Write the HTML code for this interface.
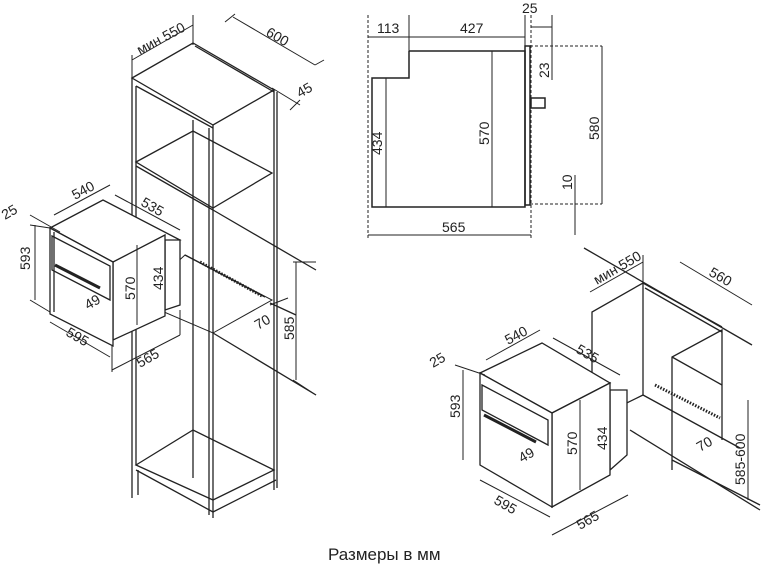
<!DOCTYPE html>
<html><head><meta charset="utf-8"><style>
body{margin:0;background:#fff;}
svg{display:block}
text{font-family:"Liberation Sans",sans-serif;font-size:14px;fill:#222;stroke:none}
.w{fill:#fff}
</style></head><body>
<svg width="768" height="568" viewBox="0 0 768 568" stroke="#222" fill="none" stroke-width="1">
<!-- LEFT TALL CABINET -->
<g stroke-width="1.3">
<polygon points="132,78 193,43 274,90 213,125"/>
<line x1="195" y1="46" x2="274" y2="92"/>
<line x1="132" y1="78" x2="132" y2="498"/>
<line x1="136" y1="86" x2="136" y2="465"/>
<line x1="136" y1="86" x2="213" y2="128"/>
<line x1="213" y1="125" x2="213" y2="518"/>
<line x1="209" y1="128" x2="209" y2="515"/>
<line x1="274" y1="90" x2="274" y2="490"/>
<line x1="277" y1="92" x2="277" y2="488"/>
<line x1="193" y1="120" x2="193" y2="478"/>
<polygon points="136,162 193,131 272,173 213,208"/>
<line x1="136" y1="166" x2="213" y2="210"/>
<polyline points="185,255 265,297"/>
<polygon points="136,300 185,255 272,300 213,333" stroke-width="1"/>
<line x1="213" y1="333" x2="316" y2="395"/>
<line x1="213" y1="210" x2="316" y2="270"/>
<line x1="270" y1="303" x2="296" y2="315"/>
<polygon points="136,465 193,430 274,470 213,500"/>
<line x1="136" y1="470" x2="213" y2="512"/>
<line x1="138" y1="470" x2="138" y2="495"/>
<line x1="213" y1="512" x2="276" y2="480"/>
<line x1="200" y1="262" x2="262" y2="296" stroke-width="3" stroke-dasharray="1.5,1.5"/>
</g>
<line x1="132" y1="60" x2="193" y2="25"/><line x1="132" y1="55" x2="132" y2="78"/><line x1="193" y1="15" x2="193" y2="45"/>
<text transform="translate(140,55) rotate(-28)">мин 550</text>
<line x1="233" y1="17" x2="315" y2="65"/><line x1="235" y1="14" x2="225" y2="22"/>
<line x1="315" y1="65" x2="324" y2="60"/>
<text transform="translate(265,35) rotate(30)">600</text>
<line x1="272" y1="88" x2="300" y2="105"/><line x1="290" y1="110" x2="300" y2="100"/>
<text transform="translate(300,98) rotate(-30)">45</text>
<line x1="296" y1="262" x2="296" y2="380"/><line x1="293" y1="262" x2="316" y2="262"/><line x1="293" y1="380" x2="316" y2="395"/>
<text transform="translate(294,340) rotate(-90)">585</text>
<line x1="270" y1="305" x2="288" y2="298"/>
<text transform="translate(258,330) rotate(-30)">70</text>
<!-- LEFT OVEN -->
<g stroke-width="1.3">
<polygon class="w" points="50,228 103,200 180,240 113,262"/>
<polygon class="w" points="165,240 180,240 180,305 165,310"/>
<polygon class="w" points="113,262 165,235 165,316 113,340"/>
<polygon class="w" points="50,228 113,262 113,346 50,314"/>
<line x1="54" y1="232" x2="54" y2="312"/>
<polygon points="52,236 110,266 110,300 52,270"/>
<line x1="55" y1="265" x2="100" y2="288" stroke-width="3"/>
</g>
<line x1="30" y1="215" x2="60" y2="232"/>
<text transform="translate(5,220) rotate(-30)">25</text>
<line x1="35" y1="225" x2="35" y2="300"/><line x1="30" y1="225" x2="50" y2="228"/><line x1="30" y1="300" x2="50" y2="312"/>
<text transform="translate(30,270) rotate(-90)">593</text>
<line x1="54" y1="215" x2="110" y2="185"/>
<text transform="translate(75,200) rotate(-28)">540</text>
<line x1="115" y1="195" x2="180" y2="230"/>
<text transform="translate(140,205) rotate(30)">535</text>
<line x1="137" y1="245" x2="137" y2="325"/>
<text transform="translate(135,300) rotate(-90)">570</text>
<line x1="165" y1="245" x2="165" y2="310"/>
<text transform="translate(163,290) rotate(-90)">434</text>
<text transform="translate(88,310) rotate(-30)">49</text>
<line x1="50" y1="322" x2="110" y2="357"/>
<text transform="translate(65,335) rotate(30)">595</text>
<line x1="112" y1="370" x2="180" y2="335"/><line x1="112" y1="346" x2="112" y2="372"/><line x1="180" y1="310" x2="180" y2="335"/>
<text transform="translate(140,368) rotate(-30)">565</text>
<!-- SIDE VIEW -->
<g stroke-width="1.5">
<polyline points="409,51 525,51 525,207 372,207 372,78 409,78 409,51"/>
<rect x="525" y="46" width="5" height="159"/>
<rect x="531" y="98" width="14" height="10"/>
</g>
<g stroke-dasharray="3,2">
<line x1="368" y1="15" x2="368" y2="240"/><line x1="531" y1="15" x2="531" y2="240"/>
<line x1="530" y1="46" x2="602" y2="46"/><line x1="530" y1="204" x2="602" y2="204"/>
</g>
<line x1="409" y1="15" x2="409" y2="51"/><line x1="525" y1="15" x2="525" y2="51"/>
<line x1="368" y1="37" x2="525" y2="37"/><line x1="531" y1="27" x2="552" y2="27"/>
<line x1="386" y1="78" x2="386" y2="207"/><line x1="492" y1="51" x2="492" y2="207"/>
<line x1="602" y1="46" x2="602" y2="204"/><line x1="552" y1="15" x2="552" y2="80"/>
<line x1="575" y1="175" x2="575" y2="235"/><line x1="368" y1="235" x2="531" y2="235"/>
<text x="377" y="33">113</text><text x="460" y="33">427</text><text x="522" y="13">25</text>
<text transform="translate(382,155) rotate(-90)">434</text>
<text transform="translate(489,145) rotate(-90)">570</text>
<text transform="translate(599,140) rotate(-90)">580</text>
<text transform="translate(549,78) rotate(-90)">23</text>
<text transform="translate(572,190) rotate(-90)">10</text>
<text x="442" y="232">565</text>
<!-- RIGHT ISO -->
<g stroke-width="1.3">
<polyline points="592,380 592,312 643,283 722,327"/>
<line x1="643" y1="283" x2="643" y2="395"/>
<line x1="643" y1="395" x2="592" y2="420"/>
<line x1="643" y1="395" x2="740" y2="448"/>
<polyline points="672,470 672,357 722,330 722,440"/>
<line x1="672" y1="357" x2="722" y2="385"/>
<line x1="630" y1="430" x2="760" y2="510"/>
<line x1="672" y1="460" x2="760" y2="505"/>
<line x1="584" y1="248" x2="752" y2="345"/>
<line x1="645" y1="288" x2="722" y2="332"/>
<line x1="655" y1="385" x2="720" y2="418" stroke-width="3" stroke-dasharray="1.5,1.5"/>
<polygon class="w" points="610,390 627,390 627,455 610,470"/>
<polygon class="w" points="480,373 542,343 610,383 552,413"/>
<polygon class="w" points="552,413 610,383 610,475 552,507"/>
<polygon class="w" points="480,373 552,413 552,507 480,465"/>
<polygon points="482,385 548,420 548,445 482,410"/>
<line x1="484" y1="415" x2="536" y2="442" stroke-width="3"/>
</g>
<line x1="590" y1="292" x2="643" y2="262"/><line x1="643" y1="255" x2="643" y2="285"/>
<text transform="translate(597,285) rotate(-30)">мин 550</text>
<line x1="680" y1="262" x2="752" y2="305"/>
<text transform="translate(708,275) rotate(30)">560</text>
<line x1="486" y1="360" x2="540" y2="330"/>
<text transform="translate(508,345) rotate(-28)">540</text>
<line x1="553" y1="338" x2="620" y2="375"/>
<text transform="translate(575,352) rotate(30)">535</text>
<line x1="455" y1="365" x2="485" y2="375"/>
<text transform="translate(433,368) rotate(-30)">25</text>
<line x1="463" y1="370" x2="463" y2="460"/>
<text transform="translate(460,418) rotate(-90)">593</text>
<line x1="580" y1="400" x2="580" y2="490"/>
<text transform="translate(577,455) rotate(-90)">570</text>
<line x1="610" y1="400" x2="610" y2="470"/>
<text transform="translate(607,450) rotate(-90)">434</text>
<text transform="translate(522,463) rotate(-30)">49</text>
<line x1="480" y1="480" x2="550" y2="517"/>
<text transform="translate(493,503) rotate(30)">595</text>
<line x1="552" y1="535" x2="628" y2="495"/>
<text transform="translate(580,530) rotate(-30)">565</text>
<line x1="748" y1="400" x2="748" y2="500"/>
<text transform="translate(745,485) rotate(-90)">585-600</text>
<text transform="translate(700,452) rotate(-30)">70</text>
<text x="328" y="560" style="font-size:17px">Размеры в мм</text>
</svg>
</body></html>
